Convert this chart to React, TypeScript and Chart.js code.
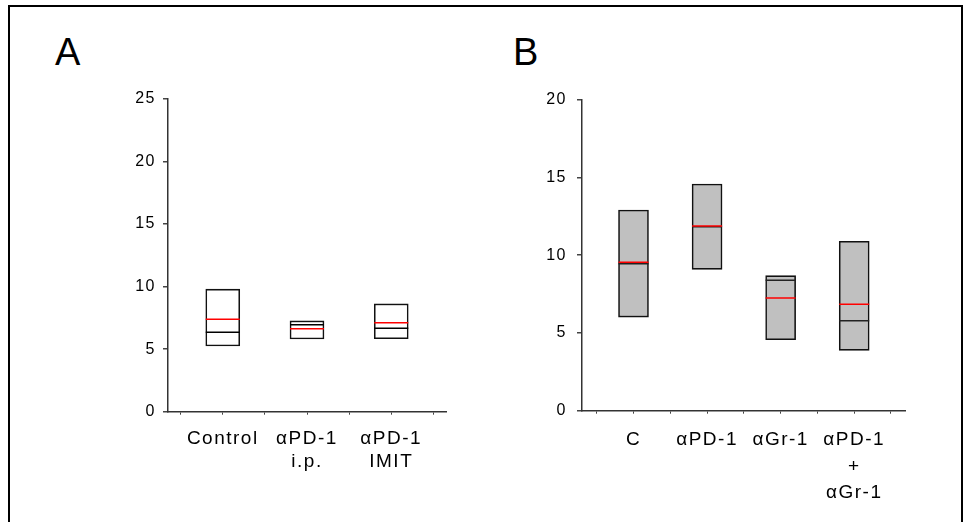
import React, { useEffect, useRef } from "react";
import { Chart, registerables } from "chart.js";

Chart.register(...registerables);

// ---------- Data ----------
const panelALabels: string[][] = [["Control"], ["αPD-1", "i.p."], ["αPD-1", "IMIT"]];
const panelALow = [5.26, 5.82, 5.84];
const panelAHigh = [9.8, 7.26, 8.62];
const panelAMedian = [6.35, 6.96, 6.67];
const panelAMean = [7.39, 6.64, 7.12];
const panelAYMax = 25;

const panelBLabels: string[][] = [["C"], ["αPD-1"], ["αGr-1"], ["αPD-1", "+", "αGr-1"]];
const panelBLow = [6.02, 9.09, 4.56, 3.88];
const panelBHigh = [12.9, 14.57, 8.68, 10.89];
const panelBMedian = [9.45, 11.82, 8.38, 5.78];
const panelBMean = [9.55, 11.88, 7.24, 6.84];
const panelBYMax = 20;

const yStep = 5;
const FONT = "'Liberation Sans', Arial, sans-serif";

const spacingPlugin = {
  id: "letterSpacing",
  beforeLayout(chart: any) {
    (chart.ctx as any).letterSpacing = "1.5px";
  },
  beforeDraw(chart: any) {
    (chart.ctx as any).letterSpacing = "1.5px";
  },
};

interface PanelProps {
  labels: string[][];
  low: number[];
  high: number[];
  median: number[];
  mean: number[];
  yMax: number;
  xMin: number;
  xMax: number;
  fill: string;
  barPx: number;
  left: number;
  top: number;
  width: number;
  height: number;
  yWidth: number;
  xHeight: number;
  padTop: number;
  padRight: number;
  medianColor: string;
  labelLineHeight: number;
  yTickPad: number;
}

function Panel(p: PanelProps) {
  const ref = useRef<HTMLCanvasElement | null>(null);
  useEffect(() => {
    if (!ref.current) return;
    const chart = new Chart(ref.current, {
      type: "bar",
      data: {
        datasets: [
          {
            type: "bar",
            data: p.low.map((lo, i) => ({ x: i + 1, y: [lo, p.high[i]] })) as any,
            backgroundColor: p.fill,
            borderColor: "#111",
            borderWidth: 1.6,
            borderSkipped: false,
            barThickness: p.barPx,
            order: 3,
          } as any,
          {
            type: "scatter",
            data: p.median.map((v, i) => ({ x: i + 1, y: v })),
            pointStyle: "line",
            pointRadius: p.barPx / 2,
            pointBorderColor: p.medianColor,
            pointBorderWidth: 1.5,
            showLine: false,
            order: 2,
          } as any,
          {
            type: "scatter",
            data: p.mean.map((v, i) => ({ x: i + 1, y: v })),
            pointStyle: "line",
            pointRadius: p.barPx / 2,
            pointBorderColor: "#ff0000",
            pointBorderWidth: 1.5,
            showLine: false,
            order: 1,
          } as any,
        ],
      },
      options: {
        responsive: false,
        animation: false,
        events: [],
        layout: { padding: { top: p.padTop, right: p.padRight, left: 0, bottom: 0 } },
        plugins: { legend: { display: false }, tooltip: { enabled: false } },
        scales: {
          x: {
            type: "linear",
            offset: false,
            min: p.xMin,
            max: p.xMax,
            afterFit: (s: any) => {
              s.height = p.xHeight;
            },
            ticks: {
              stepSize: 0.5,
              includeBounds: false,
              autoSkip: false,
              maxRotation: 0,
              minRotation: 0,
              color: "#000",
              padding: 13,
              font: { family: FONT, size: 19, lineHeight: p.labelLineHeight },
              callback: (v: any) => {
                const n = Number(v);
                const r = Math.round(n);
                if (Math.abs(n - r) < 1e-6 && r >= 1 && r <= p.labels.length) return p.labels[r - 1];
                return "";
              },
            },
            grid: { drawOnChartArea: false, drawTicks: true, tickLength: 3, color: "#444", lineWidth: 1, offset: false },
            border: { display: true, color: "#333", width: 1.5 },
          },
          y: {
            type: "linear",
            min: 0,
            max: p.yMax,
            afterFit: (s: any) => {
              s.width = p.yWidth;
            },
            ticks: {
              stepSize: yStep,
              color: "#000",
              padding: p.yTickPad,
              font: { family: FONT, size: 16 },
            },
            grid: { drawOnChartArea: false, drawTicks: true, tickLength: 5, color: "#444", lineWidth: 1.5 },
            border: { display: true, color: "#333", width: 1.5 },
          },
        },
      } as any,
      plugins: [spacingPlugin],
    });
    return () => chart.destroy();
  }, []);
  return (
    <canvas
      ref={ref}
      width={p.width}
      height={p.height}
      style={{ position: "absolute", left: p.left, top: p.top, width: p.width, height: p.height, display: "block" }}
    />
  );
}

const letterStyle: React.CSSProperties = {
  position: "absolute",
  fontFamily: FONT,
  fontSize: 38,
  lineHeight: "38px",
  color: "#000",
};

export default function App() {
  return (
    <div style={{ position: "fixed", left: 0, top: 0, width: 967, height: 522, background: "#fff", overflow: "hidden" }}>
      <div
        style={{
          position: "absolute",
          left: 8,
          top: 5,
          width: 955,
          height: 540,
          border: "2.5px solid #000",
          boxSizing: "border-box",
        }}
      />
      <div style={{ ...letterStyle, left: 55, top: 33 }}>A</div>
      <div style={{ ...letterStyle, left: 513, top: 33 }}>B</div>
      <Panel
        labels={panelALabels}
        low={panelALow}
        high={panelAHigh}
        median={panelAMedian}
        mean={panelAMean}
        yMax={panelAYMax}
        xMin={0.35}
        xMax={3.65}
        fill="#ffffff"
        barPx={34}
        left={90}
        top={80}
        width={380}
        height={420}
        yWidth={78}
        xHeight={88.3}
        padTop={19}
        padRight={24}
        medianColor="#000"
        labelLineHeight={1.2}
        yTickPad={7}
      />
      <Panel
        labels={panelBLabels}
        low={panelBLow}
        high={panelBHigh}
        median={panelBMedian}
        mean={panelBMean}
        yMax={panelBYMax}
        xMin={0.3}
        xMax={4.7}
        fill="#c0c0c0"
        barPx={30}
        left={500}
        top={80}
        width={430}
        height={440}
        yWidth={82}
        xHeight={109.3}
        padTop={19.5}
        padRight={24.3}
        medianColor="#222"
        labelLineHeight={1.4}
        yTickPad={10}
      />
    </div>
  );
}
